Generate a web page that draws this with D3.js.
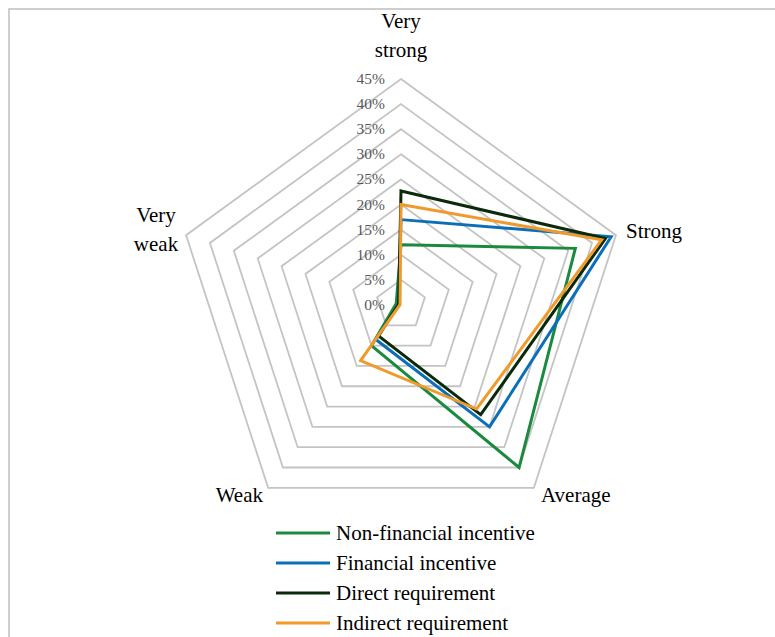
<!DOCTYPE html>
<html>
<head>
<meta charset="utf-8">
<script src="https://cdn.jsdelivr.net/npm/d3@7"></script>
<style>
  body { margin: 0; background: #fff; }
  text { font-family: "Liberation Serif", "DejaVu Serif", serif; }
</style>
</head>
<body>
<script>
const width = 775;
const height = 637;

// axes, clockwise from top
const categories = ["Very strong", "Strong", "Average", "Weak", "Very weak"];
const tickValues = [0, 0.05, 0.1, 0.15, 0.2, 0.25, 0.3, 0.35, 0.4, 0.45];

const seriesNames = ["Non-financial incentive", "Financial incentive", "Direct requirement", "Indirect requirement"];
const seriesColors = ["#1b8a3e", "#0b6fb8", "#0b2a0b", "#f19a2c"];

const nonFinancial = [0.12, 0.365, 0.40, 0.10, 0.01];
const financial = [0.17, 0.44, 0.30, 0.085, 0.005];
const directReq = [0.227, 0.428, 0.27, 0.076, 0.005];
const indirectReq = [0.20, 0.42, 0.256, 0.137, 0.002];
const seriesValues = [nonFinancial, financial, directReq, indirectReq];

const cx = 401;
const cy = 305;

const svg = d3
  .select("body")
  .append("svg")
  .attr("width", width)
  .attr("height", height);

// outer frame
svg
  .append("rect")
  .attr("x", 9)
  .attr("y", 9)
  .attr("width", 800)
  .attr("height", 700)
  .attr("fill", "none")
  .attr("stroke", "#bfbfbf")
  .attr("stroke-width", 1.5);

const r = d3.scaleLinear().domain([0, 0.45]).range([0, 226]);
const angle = d3
  .scalePoint()
  .domain(categories)
  .range([0, 2 * Math.PI * (categories.length - 1) / categories.length]);

const g = svg.append("g").attr("transform", `translate(${cx},${cy})`);

const ring = d3
  .lineRadial()
  .angle(d => angle(d.cat))
  .radius(d => r(d.v))
  .curve(d3.curveLinearClosed);

// grid pentagons
g.selectAll(".grid")
  .data(tickValues.filter(t => t > 0))
  .join("path")
  .attr("class", "grid")
  .attr("d", t => ring(categories.map(c => ({ cat: c, v: t }))))
  .attr("fill", "none")
  .attr("stroke", "#c4c4c4")
  .attr("stroke-width", 1.8);

// series polygons
g.selectAll(".series")
  .data(seriesValues)
  .join("path")
  .attr("class", "series")
  .attr("d", vals => ring(categories.map((c, i) => ({ cat: c, v: vals[i] }))))
  .attr("fill", "none")
  .attr("stroke", (d, i) => seriesColors[i])
  .attr("stroke-width", 3)
  .attr("stroke-linejoin", "miter");

// tick labels
g.selectAll(".tick")
  .data(tickValues)
  .join("text")
  .attr("class", "tick")
  .attr("x", -16)
  .attr("y", t => -r(t) + 5)
  .attr("text-anchor", "end")
  .attr("font-size", 15.5)
  .attr("fill", "#595959")
  .text(t => d3.format(".0%")(t));

// category labels
const labelPos = {
  "Very strong": { x: cx, y: 28, anchor: "middle", lines: ["Very", "strong"] },
  "Strong": { x: 626, y: 238, anchor: "start", lines: ["Strong"] },
  "Average": { x: 541, y: 502, anchor: "start", lines: ["Average"] },
  "Weak": { x: 263, y: 502, anchor: "end", lines: ["Weak"] },
  "Very weak": { x: 156, y: 222, anchor: "middle", lines: ["Very", "weak"] }
};

categories.forEach(c => {
  const p = labelPos[c];
  const t = svg
    .append("text")
    .attr("x", p.x)
    .attr("y", p.y)
    .attr("text-anchor", p.anchor)
    .attr("font-size", 21)
    .attr("fill", "#000");
  p.lines.forEach((line, i) => {
    t.append("tspan")
      .attr("x", p.x)
      .attr("dy", i === 0 ? 0 : 29)
      .text(line);
  });
});

// legend
const legend = svg
  .selectAll(".legend")
  .data(seriesNames)
  .join("g")
  .attr("class", "legend")
  .attr("transform", (d, i) => `translate(276,${533 + i * 30})`);

legend
  .append("line")
  .attr("x1", 0)
  .attr("x2", 54)
  .attr("stroke", (d, i) => seriesColors[i])
  .attr("stroke-width", 3);

legend
  .append("text")
  .attr("x", 60)
  .attr("y", 7)
  .attr("font-size", 21)
  .attr("fill", "#000")
  .text(d => d);
</script>
</body>
</html>
